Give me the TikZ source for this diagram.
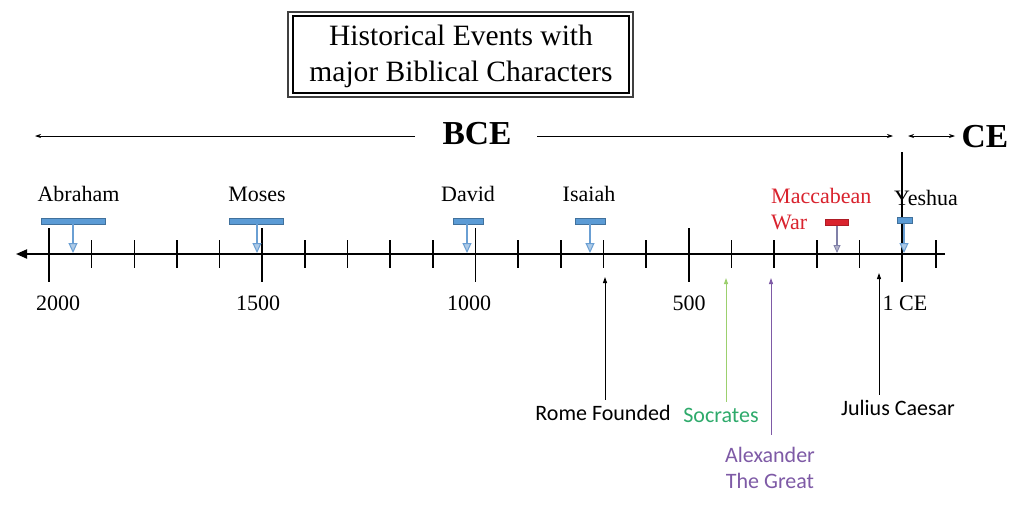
\documentclass[tikz,border=0pt]{standalone}
\usepackage{fontspec}
\setmainfont{Liberation Serif}
\newfontfamily\calib{Carlito}
\usetikzlibrary{arrows.meta,calc}
\definecolor{barblue}{HTML}{5B9BD5}
\definecolor{barblueedge}{HTML}{41719C}
\definecolor{arrblue}{HTML}{6A9FD3}
\definecolor{macred}{HTML}{D9232E}
\definecolor{macarrow}{HTML}{8080A8}
\definecolor{socline}{HTML}{9CD06E}
\definecolor{soctext}{HTML}{2EAA6B}
\definecolor{alexcol}{HTML}{7E5AA6}
\tikzset{
  lbl/.style={font=\fontsize{22}{26}\selectfont, inner sep=0pt, anchor=base},
  num/.style={font=\fontsize{22}{26}\selectfont, inner sep=0pt, anchor=base},
  evt/.style={font=\calib\fontsize{22}{26}\selectfont, inner sep=2pt, anchor=base, align=center},
  bar/.style={fill=barblue, draw=barblueedge, line width=0.6pt, minimum height=6pt, inner sep=0pt},
  redbar/.style={fill=macred, draw=macred!80!black, line width=0.6pt, minimum height=6pt, inner sep=0pt},
  bararrow/.style={draw=arrblue, line width=1.5pt, -{Triangle[length=10pt,width=9pt,fill=arrblue!55,line width=1pt]}},
  evtarrow/.style={line width=1pt, -{Triangle[length=6pt,width=4pt]}},
  toparrow/.style={line width=0.7pt, -{Stealth[length=6pt,width=4pt]}},
  majortick/.style={line width=1.7pt},
  minortick/.style={line width=1.6pt}
}
\begin{document}
\begin{tikzpicture}[x=1pt,y=-1pt]
\useasboundingbox[fill=white] (0,0) rectangle (1024,504);

% Title box
\draw[line width=1.6pt, black!75] (288,12) rectangle (633,97);
\draw[line width=1.2pt] (293,16) rectangle (629,93);
\node[font=\fontsize{29.5}{34}\selectfont, inner sep=0pt, anchor=base] (t1) at (461,45) {Historical Events with};
\node[font=\fontsize{29.5}{34}\selectfont, inner sep=0pt, anchor=base] (t2) at (461,81) {major Biblical Characters};

% BCE / CE
\node[font=\bfseries\fontsize{33.5}{38}\selectfont, inner sep=0pt, anchor=base] (bce) at (477,144) {BCE};
\node[font=\bfseries\fontsize{33.5}{38}\selectfont, inner sep=0pt, anchor=base] (ce) at (985,147) {CE};
\coordinate (bceL) at (35,136);
\coordinate (bceR) at (893,136);
\coordinate (ceL) at (908,136);
\coordinate (ceR) at (955,136);
\draw[toparrow] (415,136) -- (bceL);
\draw[toparrow] (537,136) -- (bceR);
\draw[line width=0.7pt, {Stealth[length=6pt,width=4pt]}-{Stealth[length=6pt,width=4pt]}] (ceL) -- (ceR);

% Axis
\coordinate (axL) at (16,254);
\coordinate (axR) at (945,254);
\draw[line width=1.8pt, -{Triangle[length=11pt,width=9pt]}] (axR) -- (axL);

% ticks
\foreach \i in {0,...,20}{
  \pgfmathsetmacro{\xx}{49+42.65*\i}
  \pgfmathtruncatemacro{\m}{mod(\i,5)}
  \ifnum\m=0
    \draw[majortick] (\xx,228) -- (\xx,282);
  \else
    \draw[minortick] (\xx,240) -- (\xx,268);
  \fi
}
\draw[minortick] (936,240) -- (936,268);
% 1 CE tall line
\draw[line width=1.6pt] (902,152) -- (902,275);

% numbers
\node[num] (n2000) at (58,310) {2000};
\node[num] (n1500) at (258,310) {1500};
\node[num] (n1000) at (469,310) {1000};
\node[num] (n500) at (689,310) {500};
\node[num] (n1ce) at (905,310) {1 CE};

% characters
\node[lbl] (abraham) at (78.5,201) {Abraham};
\node[lbl] (moses) at (257,201) {Moses};
\node[lbl] (david) at (468,201) {David};
\node[lbl] (isaiah) at (589,201) {Isaiah};
\node[lbl, text=macred, align=left, anchor=base west] (mac) at (771,229) {Maccabean\\War};
\node[lbl] (yeshua) at (926,205) {Yeshua};

% bars
\node[bar, minimum width=64pt] (babr) at (73.5,221) {};
\node[bar, minimum width=54pt] (bmos) at (256,221) {};
\node[bar, minimum width=30pt] (bdav) at (468,221) {};
\node[bar, minimum width=30pt] (bisa) at (590,221) {};
\node[redbar, minimum width=23pt] (bmac) at (836.5,222.5) {};
\node[bar, minimum width=15pt] (byes) at (904.5,220.5) {};

\coordinate (pabr) at (73,253);
\coordinate (pmos) at (257,253);
\coordinate (pdav) at (467,253);
\coordinate (pisa) at (590,253);
\coordinate (pmac) at (837,253);
\coordinate (pyes) at (904,253);
\draw[bararrow] (babr.south -| pabr) -- (pabr);
\draw[bararrow] (bmos.south -| pmos) -- (pmos);
\draw[bararrow] (bdav.south -| pdav) -- (pdav);
\draw[bararrow] (bisa.south -| pisa) -- (pisa);
\draw[draw=macarrow, line width=1.4pt, -{Triangle[length=8pt,width=7pt,fill=macarrow!60,line width=0.8pt]}] (bmac.south -| pmac) -- (pmac);
\draw[bararrow] (byes.south -| pyes) -- (pyes);

% events
\node[evt] (rome) at (603,420) {Rome Founded};
\node[evt, text=soctext] (soc) at (721,422) {Socrates};
\node[evt, text=alexcol] (alex) at (770,488) {Alexander\\The Great};
\node[evt] (jc) at (898,415) {Julius Caesar};

\coordinate (trome) at (605,277);
\coordinate (tsoc) at (726,278);
\coordinate (talex) at (771,278);
\coordinate (tjc) at (879,273);
\draw[evtarrow] ($(trome |- rome.north)+(0,-3)$) -- (trome);
\draw[evtarrow, draw=socline] ($(tsoc |- soc.north)+(0,-4)$) -- (tsoc);
\draw[evtarrow, draw=alexcol] ($(talex |- alex.north)+(0,-10)$) -- (talex);
\draw[evtarrow] ($(tjc |- jc.north)+(0,-3)$) -- (tjc);
\end{tikzpicture}
\end{document}
